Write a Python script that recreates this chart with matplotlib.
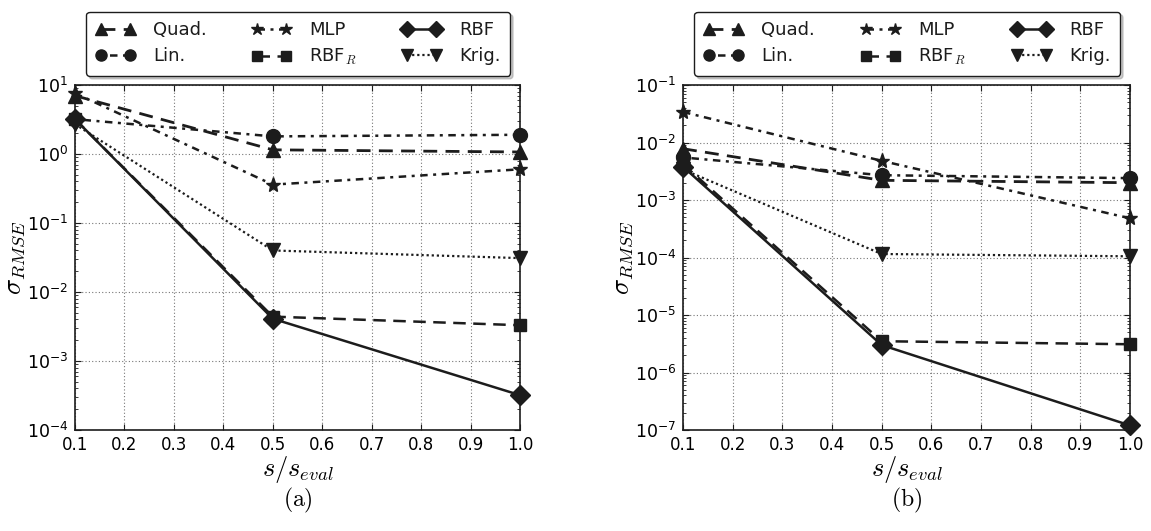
import numpy as np
import matplotlib
matplotlib.use("Agg")
import matplotlib.pyplot as plt
from matplotlib.ticker import LogLocator, NullFormatter, FixedLocator, FixedFormatter

plt.rcParams['font.family'] = ['DejaVu Sans']
plt.rcParams['mathtext.fontset'] = 'dejavusans'

# sample-size ratio s / s_eval
s_ratio = [0.1, 0.5, 1.0]

# panel (a): RMSE per surrogate model
a_quad = [7.0, 1.15, 1.07]
a_lin = [3.2, 1.8, 1.9]
a_mlp = [7.6, 0.36, 0.6]
a_rbfr = [3.2, 0.0044, 0.0033]
a_rbf = [3.2, 0.0041, 0.00032]
a_krig = [2.7, 0.04, 0.031]

# panel (b): RMSE per surrogate model
b_quad = [0.0078, 0.0022, 0.002]
b_lin = [0.0055, 0.0027, 0.0024]
b_mlp = [0.034, 0.0048, 0.00048]
b_rbfr = [0.0042, 3.5e-6, 3.1e-6]
b_rbf = [0.0038, 3.0e-6, 1.2e-7]
b_krig = [0.0034, 1.15e-4, 1.05e-4]

labels = ["Quad.", "Lin.", "MLP", "RBF$_{R}$", "RBF", "Krig."]
x_ticks = [0.1, 0.2, 0.3, 0.4, 0.5, 0.6, 0.7, 0.8, 0.9, 1.0]
x_ticklabels = ["0.1", "0.2", "0.3", "0.4", "0.5", "0.6", "0.7", "0.8", "0.9", "1.0"]

ink = "#1c1c1c"
styles = [
    dict(marker="^", ms=10, ls=(0, (5, 3)), lw=2.0),            # Quad.
    dict(marker="o", ms=10, ls=(0, (1.2, 2.2, 3, 2.2)), lw=1.8),  # Lin.
    dict(marker="*", ms=11, ls=(0, (3, 2.2, 1.2, 2.2)), lw=1.8),  # MLP
    dict(marker="s", ms=9, ls=(0, (5, 3)), lw=1.8),              # RBF_R
    dict(marker="D", ms=10, ls="-", lw=1.8),                     # RBF
    dict(marker="v", ms=10, ls=(0, (1, 1.3)), lw=1.6),           # Krig.
]

fig = plt.figure(figsize=(11.51, 5.31), dpi=100)
ax_a = fig.add_axes([0.0652, 0.1902, 0.3866, 0.6497])
ax_b = fig.add_axes([0.5934, 0.1902, 0.3884, 0.6497])

panels = [
    (ax_a, [a_quad, a_lin, a_mlp, a_rbfr, a_rbf, a_krig], (1e-4, 1e1), "(a)"),
    (ax_b, [b_quad, b_lin, b_mlp, b_rbfr, b_rbf, b_krig], (1e-7, 1e-1), "(b)"),
]

for ax, series, ylim, tag in panels:
    handles = []
    for vals, st, lab in zip(series, styles, labels):
        h, = ax.plot(s_ratio, vals, color=ink, mfc=ink, mec=ink,
                     marker=st["marker"], ms=st["ms"], ls=st["ls"], lw=st["lw"],
                     label=lab, clip_on=False, zorder=3)
        handles.append(h)
    ax.set_yscale("log")
    ax.set_xlim(0.1, 1.0)
    ax.set_ylim(*ylim)
    ax.xaxis.set_major_locator(FixedLocator(x_ticks))
    ax.xaxis.set_major_formatter(FixedFormatter(x_ticklabels))
    ax.yaxis.set_major_locator(LogLocator(base=10, numticks=20))
    ax.yaxis.set_minor_locator(LogLocator(base=10, subs=np.arange(2, 10), numticks=20))
    ax.yaxis.set_minor_formatter(NullFormatter())
    ax.tick_params(which="both", direction="in", top=True, right=True, color=ink)
    ax.tick_params(which="major", length=4, width=0.8)
    ax.tick_params(which="minor", length=2.5, width=0.6)
    ax.tick_params(axis="y", labelsize=12.5, pad=5)
    ax.tick_params(axis="x", labelsize=12, pad=4)
    ax.grid(True, which="major", ls=(0, (1, 2)), color="#777777", lw=0.8)
    for sp in ax.spines.values():
        sp.set_color(ink)
        sp.set_linewidth(1.2)
    xl = ax.set_xlabel(r"$s/s_{eval}$", fontsize=19, labelpad=0)
    xl.set_math_fontfamily("cm")
    yl = ax.set_ylabel(r"$\sigma_{RMSE}$", fontsize=19, labelpad=0)
    yl.set_math_fontfamily("cm")
    cap = ax.text(0.5, -0.205, r"$\mathrm{" + tag + "}$", transform=ax.transAxes,
                  ha="center", va="center", fontsize=17)
    cap.set_math_fontfamily("cm")

    leg = ax.legend(handles=handles, ncol=3, loc="lower left",
                    bbox_to_anchor=(0.025, 1.026, 0.953, 0.2), mode="expand",
                    numpoints=2, markerscale=0.8, handlelength=2.2,
                    handletextpad=1.0, columnspacing=1.2, fontsize=13,
                    frameon=True, fancybox=True,
                    shadow={"color": "0.6", "alpha": 0.5}, borderpad=0.5,
                    labelspacing=0.45, borderaxespad=0.0)
    leg.get_frame().set_edgecolor(ink)
    leg.get_frame().set_linewidth(1.0)
    leg.get_frame().set_alpha(1.0)
    for t in leg.get_texts():
        t.set_math_fontfamily("cm")
        t.set_color(ink)

fig.savefig("out.png", dpi=100)
